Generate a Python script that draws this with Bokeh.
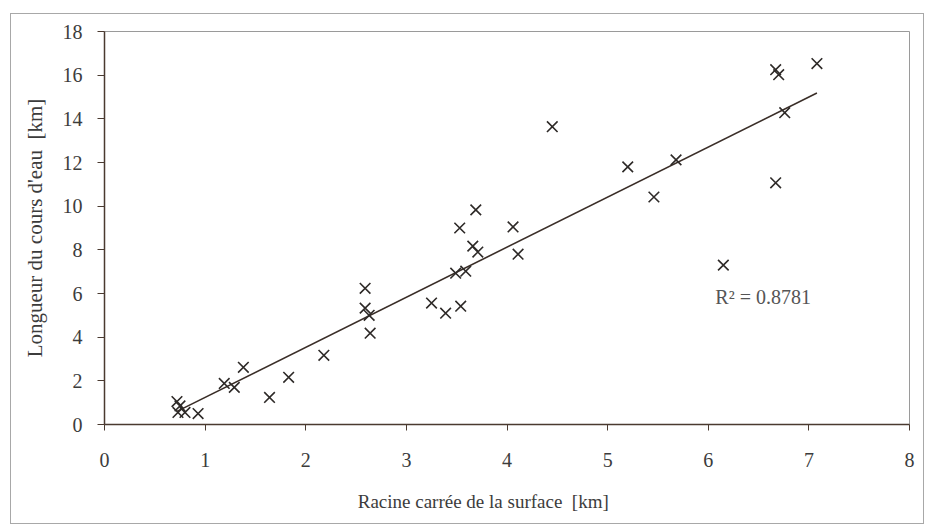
import numpy as np
from bokeh.plotting import figure
from bokeh.models import Range1d, FixedTicker, Label, ColumnDataSource
from bokeh.embed import file_html
from bokeh.resources import INLINE

# Data
x_vals = [0.72, 0.75, 0.73, 0.80, 0.93, 1.19, 1.29, 1.38, 1.64, 1.83, 2.18,
          2.59, 2.59, 2.63, 2.64, 3.25, 3.39, 3.54, 3.49, 3.59, 3.66, 3.71,
          3.53, 3.69, 4.06, 4.11, 4.45, 5.20, 5.46, 5.68, 6.15, 6.67, 6.67,
          6.70, 6.76, 7.08]
y_vals = [1.05, 0.85, 0.55, 0.55, 0.50, 1.88, 1.70, 2.62, 1.24, 2.16, 3.17,
          6.24, 5.33, 5.00, 4.18, 5.56, 5.10, 5.42, 6.93, 7.02, 8.17, 7.90,
          9.00, 9.83, 9.05, 7.80, 13.64, 11.80, 10.42, 12.12, 7.30, 11.07, 16.25,
          16.02, 14.28, 16.53]
x_ticks = [0, 1, 2, 3, 4, 5, 6, 7, 8]
y_ticks = [0, 2, 4, 6, 8, 10, 12, 14, 16, 18]
r2_text = "R\u00b2 = 0.8781"
x_title = "Racine carrée de la surface\u00a0 [km]"
y_title = "Longueur du cours d'eau\u00a0 [km]"

FONT = "Liberation Serif"
TXT = "#3c3c3c"
AX = "#4a3a30"

# least-squares trend line from the data
slope, intercept = np.polyfit(x_vals, y_vals, 1)
xl = [min(x_vals), max(x_vals)]
yl = [slope * v + intercept for v in xl]

p = figure(width=914, height=511, output_backend="svg", toolbar_location=None,
           x_range=Range1d(0, 8), y_range=Range1d(0, 18),
           min_border_left=93, min_border_right=16, min_border_top=17,
           min_border_bottom=101)
p.styles = {"border": "1px solid #a8a8a8", "margin-left": "10px", "margin-top": "13px"}

p.xgrid.visible = False
p.ygrid.visible = False
p.outline_line_color = "#9a9a9a"
p.outline_line_width = 1

for ax in (p.xaxis, p.yaxis):
    ax.axis_line_color = AX
    ax.axis_line_width = 1.5
    ax.major_tick_line_color = AX
    ax.major_tick_in = 0
    ax.minor_tick_line_color = None
    ax.major_label_text_font = FONT
    ax.major_label_text_font_size = "20px"
    ax.major_label_text_color = TXT
    ax.axis_label_text_font = FONT
    ax.axis_label_text_font_size = "19px"
    ax.axis_label_text_font_style = "normal"
    ax.axis_label_text_color = TXT

p.xaxis.ticker = FixedTicker(ticks=x_ticks)
p.yaxis.ticker = FixedTicker(ticks=y_ticks)
p.xaxis.major_tick_out = 6
p.yaxis.major_tick_out = 7
p.xaxis.major_label_standoff = 22
p.yaxis.major_label_standoff = 15
# trailing no-break spaces move the centred title slightly left, as in the reference
p.xaxis.axis_label = x_title + "\u00a0" * 10
p.yaxis.axis_label = y_title
p.yaxis.axis_label_text_font_size = "21px"
p.xaxis.axis_label_standoff = 21
p.yaxis.axis_label_standoff = 13

src = ColumnDataSource(dict(x=x_vals, y=y_vals))
p.line(xl, yl, line_color="#3a2e28", line_width=1.6)
p.scatter("x", "y", source=src, marker="x", size=15, line_color="#2e2a28", line_width=1.6)

p.add_layout(Label(x=6.07, y=5.35, text=r2_text, text_font=FONT,
                   text_font_size="20px", text_color="#555555"))

open("out.html", "w").write(file_html(p, INLINE))
